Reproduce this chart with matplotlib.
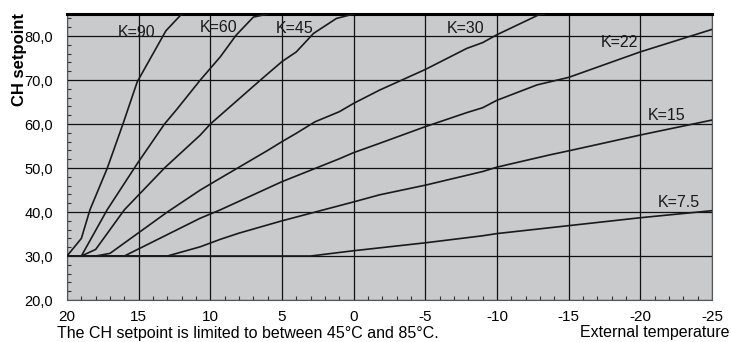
import matplotlib.pyplot as plt
from matplotlib.ticker import MultipleLocator, FixedLocator

plt.rcParams['font.family'] = ['Liberation Sans', 'DejaVu Sans']
plt.rcParams['axes.unicode_minus'] = False

# Heating curves: outside temperature -> CH setpoint
t_k90 = [20, 19, 18.4, 17.2, 16.1, 15.1, 13.1, 12]
y_k90 = [30, 34, 40.5, 49.9, 60, 69.6, 81.2, 85]

t_k60 = [20, 19, 17.2, 15.1, 13.2, 12.35, 10.7, 9.3, 8.2, 7, 6]
y_k60 = [30, 30, 40.5, 51, 60, 63.3, 70, 75.3, 80.2, 84.3, 85]

t_k45 = [20, 19, 18, 16, 13.2, 10.7, 10, 6.5, 5, 4, 2.8, 1.2, 0]
y_k45 = [30, 30, 31.5, 40.5, 50, 57.5, 60, 70, 74.2, 76.4, 80.6, 84, 85]

t_k30 = [20, 18, 17, 13, 10.7, 9.3, 6, 5, 4, 2.7, 1, 0, -1.8, -5, -7.9, -9, -10, -12.9, -13.3]
y_k30 = [30, 30, 30.6, 40, 45, 47.7, 54, 56, 57.9, 60.5, 62.8, 64.7, 67.7, 72.4, 77.2, 78.5, 80.3, 84.8, 85]

t_k22 = [20, 16, 10.7, 9.3, 5, 1, 0, -1.8, -5, -7.9, -9, -10, -12.8, -15, -20, -25]
y_k22 = [30, 30, 38.6, 40.5, 46.9, 52.1, 53.5, 55.6, 59.4, 62.6, 63.7, 65.4, 68.9, 70.6, 76.4, 81.5]

t_k15 = [20, 13, 10.7, 9.3, 8, 5, 0, -1.8, -5, -9, -10, -13.7, -15, -20, -25]
y_k15 = [30, 30, 32.1, 33.8, 35.2, 38, 42.3, 43.9, 46.1, 49.2, 50.2, 53, 53.9, 57.5, 60.9]

t_k75 = [20, 3, 0, -5, -9, -10, -15, -20, -25]
y_k75 = [30, 30, 31.2, 33, 34.6, 35.1, 36.9, 38.7, 40.3]

labels = ['K=90', 'K=60', 'K=45', 'K=30', 'K=22', 'K=15', 'K=7.5']
label_t = [15.15, 9.46, 4.09, -7.84, -18.56, -21.8, -22.69]
label_y = [80.9, 82.0, 81.8, 81.8, 78.5, 61.9, 42.2]

x_ticks = [20, 15, 10, 5, 0, -5, -10, -15, -20, -25]
y_ticks = [20, 30, 40, 50, 60, 70, 80]

fig = plt.figure(figsize=(7.31, 3.42), dpi=100)
ax = fig.add_axes([0.0917, 0.1228, 0.8823, 0.8362])
ax.set_facecolor('#c9cacc')

for t, y in [(t_k90, y_k90), (t_k60, y_k60), (t_k45, y_k45), (t_k30, y_k30),
             (t_k22, y_k22), (t_k15, y_k15), (t_k75, y_k75)]:
    ax.plot(t, y, color='#1a1a1a', lw=1.2, zorder=3)

for lab, tx, ty in zip(labels, label_t, label_y):
    ax.text(tx, ty, lab, fontsize=11.5, ha='center', va='center', color='#1a1a1a', zorder=4)

ax.set_xlim(20, -25)
ax.set_ylim(20, 85)

ax.xaxis.set_major_locator(FixedLocator(x_ticks))
ax.set_xticklabels([str(v) for v in x_ticks])
ax.xaxis.set_minor_locator(MultipleLocator(1))
ax.yaxis.set_major_locator(FixedLocator(y_ticks))
ax.set_yticklabels(['%d,0' % v for v in y_ticks])
ax.yaxis.set_minor_locator(MultipleLocator(2))

ax.tick_params(which='major', length=0)
ax.tick_params(axis='x', which='major', pad=7, labelsize=11)
ax.tick_params(axis='y', which='major', pad=10, labelsize=10.5)
ax.tick_params(which='minor', direction='in', length=3, width=0.8, color='#333333')

ax.grid(True, which='major', color='#111111', lw=0.9, zorder=1)
ax.set_axisbelow(True)

for side in ['left', 'bottom', 'right']:
    ax.spines[side].set_color('#555555')
    ax.spines[side].set_linewidth(0.8)
ax.spines['top'].set_color('black')
ax.spines['top'].set_linewidth(2.2)

fig.text(0.026, 0.825, 'CH setpoint', rotation=90, fontsize=12, fontweight='bold',
         ha='center', va='center')
fig.text(0.078, 0.012, 'The CH setpoint is limited to between 45°C and 85°C.',
         fontsize=11.5, ha='left', va='baseline')
fig.text(0.998, 0.015, 'External temperature', fontsize=11.5, ha='right', va='baseline')

fig.savefig('out.png', dpi=100)
